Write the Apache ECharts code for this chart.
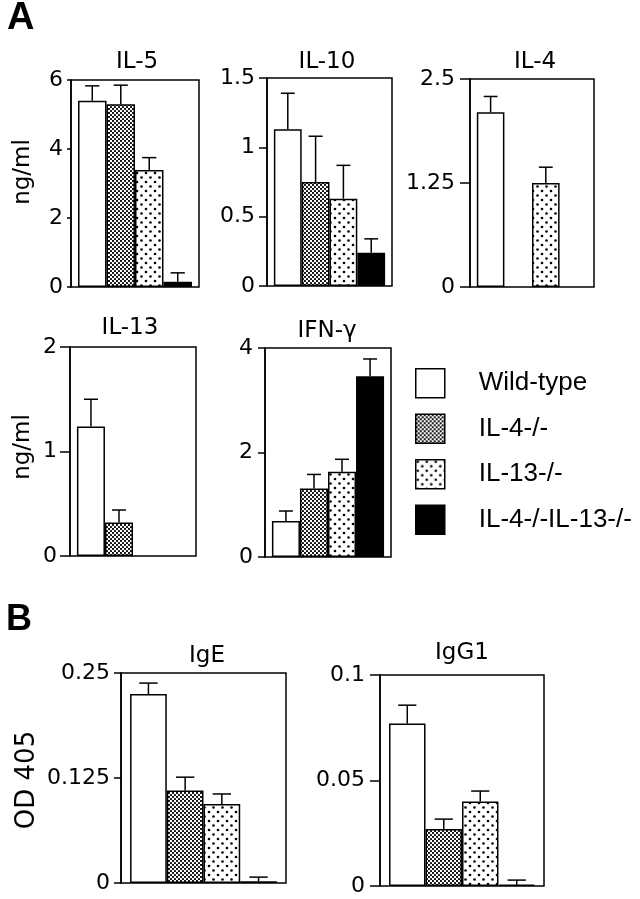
<!DOCTYPE html>
<html><head><meta charset="utf-8">
<script src="https://cdn.jsdelivr.net/npm/echarts@6/dist/echarts.min.js"></script>
<style>html,body{margin:0;padding:0;background:#fff}#c{width:640px;height:899px}</style>
</head><body><div id="c"></div>
<script>
// ---- data ----
const genotypes = ['Wild-type', 'IL-4-/-', 'IL-13-/-', 'IL-4-/-IL-13-/-'];

const il5Mean  = [5.40, 5.30, 3.39, 0.15];
const il5Sem   = [0.43, 0.55, 0.36, 0.26];
const il5Ticks = [0, 2, 4, 6];

const il10Mean  = [1.13, 0.75, 0.63, 0.24];
const il10Sem   = [0.26, 0.33, 0.24, 0.10];
const il10Ticks = [0, 0.5, 1, 1.5];

const il4Mean  = [2.10, null, 1.25, null];
const il4Sem   = [0.19, null, 0.19, null];
const il4Ticks = [0, 1.25, 2.5];

const il13Mean  = [1.24, 0.32, null, null];
const il13Sem   = [0.26, 0.12, null, null];
const il13Ticks = [0, 1, 2];

const ifnMean  = [0.69, 1.31, 1.63, 3.46];
const ifnSem   = [0.19, 0.27, 0.24, 0.33];
const ifnTicks = [0, 2, 4];

const igeMean  = [0.225, 0.110, 0.094, 0.002];
const igeSem   = [0.013, 0.016, 0.012, 0.005];
const igeTicks = [0, 0.125, 0.25];

const igg1Mean  = [0.077, 0.027, 0.040, 0.0006];
const igg1Sem   = [0.0087, 0.0047, 0.0050, 0.0022];
const igg1Ticks = [0, 0.05, 0.1];

// ---- styles / layout ----
const FONT = 'DejaVu Sans, Verdana, sans-serif';
const LFONT = 'Liberation Sans, Arial, Helvetica, sans-serif';
const GAP = 0.11;

function makePattern(size, draw) {
  const c = document.createElement('canvas');
  c.width = size; c.height = size;
  const g = c.getContext('2d');
  g.fillStyle = '#fff'; g.fillRect(0, 0, size, size);
  g.fillStyle = '#000';
  draw(g);
  return { image: c, repeat: 'repeat' };
}
const checker = makePattern(4, g => {
  g.beginPath(); g.arc(1, 1, 1.1, 0, Math.PI * 2); g.fill();
  g.beginPath(); g.arc(3, 3, 1.1, 0, Math.PI * 2); g.fill();
});
const dots = makePattern(9, g => {
  g.beginPath(); g.arc(2, 2, 1.3, 0, Math.PI * 2); g.fill();
  g.beginPath(); g.arc(6.5, 6.5, 1.3, 0, Math.PI * 2); g.fill();
});
const fills = ['#ffffff', checker, dots, '#000000'];

const panels = [
  { title: 'IL-5',  mean: il5Mean,  sem: il5Sem,  ticks: il5Ticks,  grid: [71, 80, 128, 207],  tick: 4,  margin: 8,  tx: 137, ty: 62.5 },
  { title: 'IL-10', mean: il10Mean, sem: il10Sem, ticks: il10Ticks, grid: [267, 78, 125, 208], tick: 8,  margin: 12, tx: 327, ty: 62 },
  { title: 'IL-4',  mean: il4Mean,  sem: il4Sem,  ticks: il4Ticks,  grid: [470, 79, 124, 208], tick: 10, margin: 15, tx: 535, ty: 62 },
  { title: 'IL-13', mean: il13Mean, sem: il13Sem, ticks: il13Ticks, grid: [70, 347, 126, 209], tick: 10, margin: 13, tx: 130, ty: 328 },
  { title: 'IFN-γ', mean: ifnMean,  sem: ifnSem,  ticks: ifnTicks,  grid: [265, 348, 126, 209], tick: 7, margin: 12, tx: 327, ty: 331 },
  { title: 'IgE',   mean: igeMean,  sem: igeSem,  ticks: igeTicks,  grid: [121, 673, 165, 210], tick: 7, margin: 11, tx: 207, ty: 656 },
  { title: 'IgG1',  mean: igg1Mean, sem: igg1Sem, ticks: igg1Ticks, grid: [380, 675, 164, 211], tick: 10, margin: 15, tx: 462, ty: 653 }
];

function errRender(params, api) {
  const k = api.value(1);
  const base = api.coord([0, api.value(2)]);
  const up = api.coord([0, api.value(3)]);
  const band = api.size([1, 0])[0];
  const bw = band * (1 - GAP) / 4;
  const cx = base[0] + (k - 1.5) * bw;
  const cw = bw * 0.5;
  const st = { stroke: '#000', lineWidth: 1.5 };
  return { type: 'group', children: [
    { type: 'line', shape: { x1: cx, y1: base[1], x2: cx, y2: up[1] }, style: st },
    { type: 'line', shape: { x1: cx - cw / 2, y1: up[1], x2: cx + cw / 2, y2: up[1] }, style: st }
  ]};
}

const grids = [], xAxes = [], yAxes = [], series = [], graphics = [];
panels.forEach((p, i) => {
  grids.push({ left: p.grid[0], top: p.grid[1], width: p.grid[2], height: p.grid[3],
    show: true, borderColor: '#000', borderWidth: 1.5, backgroundColor: 'transparent' });
  xAxes.push({ type: 'category', gridIndex: i, data: [p.title],
    axisLine: { show: false }, axisTick: { show: false }, axisLabel: { show: false } });
  const t = p.ticks;
  yAxes.push({ type: 'value', gridIndex: i, min: t[0], max: t[t.length - 1], interval: t[1] - t[0],
    axisLine: { show: true, lineStyle: { color: '#000', width: 1.5 } },
    axisTick: { show: true, length: p.tick, lineStyle: { color: '#000', width: 1.5 } },
    splitLine: { show: false },
    axisLabel: { color: '#000', fontSize: 22, fontFamily: FONT, margin: p.margin } });
  genotypes.forEach((g, k) => {
    series.push({ type: 'bar', name: g, xAxisIndex: i, yAxisIndex: i, data: [p.mean[k]],
      barGap: '0%', barCategoryGap: (GAP * 100) + '%', silent: true, animation: false,
      itemStyle: { color: fills[k], borderColor: '#000', borderWidth: 1.5 } });
  });
  const errData = [];
  p.mean.forEach((m, k) => { if (m != null) errData.push([0, k, m, m + p.sem[k]]); });
  series.push({ type: 'custom', xAxisIndex: i, yAxisIndex: i, data: errData, renderItem: errRender,
    encode: { x: 0, y: 3 }, silent: true, animation: false, z: 5 });
  graphics.push({ type: 'text', x: p.tx, y: p.ty,
    style: { text: p.title, fontSize: 23, fontFamily: FONT, fill: '#000', textAlign: 'center', textVerticalAlign: 'middle' } });
});

graphics.push(
  { type: 'text', x: 7, y: 19, style: { text: 'A', fontSize: 38, fontWeight: 'bold', fontFamily: LFONT, fill: '#000', textVerticalAlign: 'middle' } },
  { type: 'text', x: 6, y: 620, style: { text: 'B', fontSize: 36, fontWeight: 'bold', fontFamily: LFONT, fill: '#000', textVerticalAlign: 'middle' } },
  { type: 'text', x: 23, y: 172, rotation: Math.PI / 2, style: { text: 'ng/ml', fontSize: 23, fontFamily: FONT, fill: '#000', textAlign: 'center', textVerticalAlign: 'middle' } },
  { type: 'text', x: 23, y: 447, rotation: Math.PI / 2, style: { text: 'ng/ml', fontSize: 23, fontFamily: FONT, fill: '#000', textAlign: 'center', textVerticalAlign: 'middle' } },
  { type: 'text', x: 27, y: 780, rotation: Math.PI / 2, style: { text: 'OD 405', fontSize: 26, fontFamily: FONT, fill: '#000', textAlign: 'center', textVerticalAlign: 'middle' } }
);

const chart = echarts.init(document.getElementById('c'), null, { renderer: 'canvas' });
chart.setOption({
  backgroundColor: '#fff',
  animation: false,
  grid: grids, xAxis: xAxes, yAxis: yAxes, series: series, graphic: graphics,
  legend: { orient: 'vertical', left: 415, top: 368, itemWidth: 29, itemHeight: 29, itemGap: 15,
    padding: 0, selectedMode: false, icon: 'rect',
    textStyle: { fontSize: 26, fontFamily: LFONT, color: '#000', padding: [0, 0, 0, 29] },
    data: genotypes.map((g, k) => ({ name: g, icon: 'rect',
      itemStyle: { color: fills[k], borderColor: '#000', borderWidth: 1.5 } })) }
});
</script></body></html>
